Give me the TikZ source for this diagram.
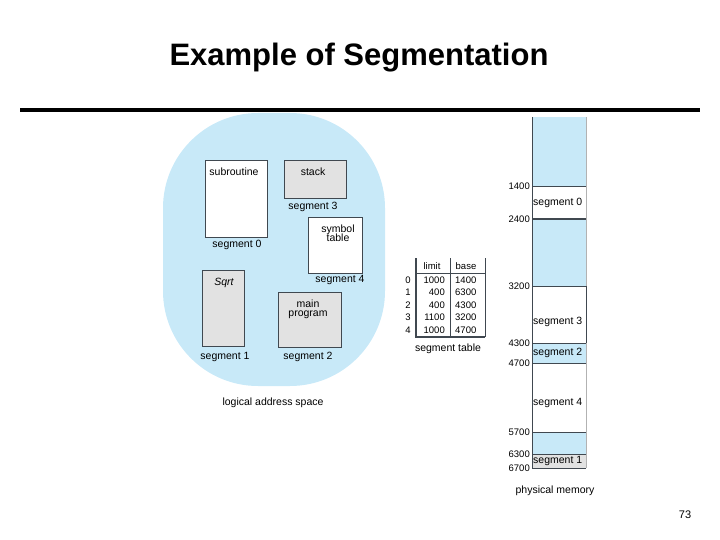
\documentclass[tikz,border=0pt]{standalone}
\usepackage{fontspec}
\setmainfont{Liberation Sans}
\definecolor{lb}{HTML}{C8E9F8}
\definecolor{gr}{HTML}{E2E2E2}
\definecolor{ln}{HTML}{404850}
\begin{document}
\begin{tikzpicture}[x=1pt,y=-1pt,
 lbl/.style={font=\fontsize{10.5}{11}\selectfont,inner sep=0pt},
 sml/.style={font=\fontsize{9.5}{10}\selectfont,inner sep=0pt},
 seg/.style={draw=ln,line width=0.6pt}]
\useasboundingbox (0,0) rectangle (720,540);
\node[font=\bfseries\fontsize{31}{34}\selectfont] (title) at (359,58) {Example of Segmentation};
\draw[line width=4pt] (20,110) -- (700,110);
% logical space
\fill[lb,rounded corners=95pt] (163,113) rectangle (385,386);
\node[seg,fill=white,minimum width=62,minimum height=77,inner sep=0,anchor=north west] (sub) at (205,160) {};
\node[lbl,anchor=north] at (234,168) {subroutine};
\node[seg,fill=gr,minimum width=62,minimum height=38,inner sep=0,anchor=north west] (stk) at (284,160) {};
\node[lbl,anchor=north] at (313,168) {stack};
\node[lbl] (s3) at (313,207) {segment 3};
\node[lbl] (s0) at (237,245) {segment 0};
\node[seg,fill=white,minimum width=54,minimum height=56,inner sep=0,anchor=north west] (sym) at (308,217) {};
\node[lbl,align=center,anchor=north] at (338,225) {symbol\\[-2pt]table};
\node[lbl] (s4) at (340,280) {segment 4};
\node[seg,fill=gr,minimum width=42,minimum height=76,inner sep=0,anchor=north west] (sqrt) at (202,270) {};
\node[lbl,anchor=north] at (224,278) {\itshape Sqrt};
\node[seg,fill=gr,minimum width=63,minimum height=55,inner sep=0,anchor=north west] (main) at (278,292) {};
\node[lbl,align=center,anchor=north] at (308,300) {main\\[-2pt]program};
\node[lbl] (s1) at (225,357) {segment 1};
\node[lbl] (s2) at (308,357) {segment 2};
\node[lbl] (las) at (273,403) {logical address space};
% segment table
\draw[ln,line width=0.6pt] (416,273) -- (485,273);
\draw[ln,line width=1.2pt] (416,258) -- (416,337) -- (485,337);
\draw[ln,line width=1pt] (450,258) -- (450,337);
\draw[ln,line width=0.6pt] (485,258) -- (485,337);
\node[sml] at (432,266) {limit};
\node[sml] at (466,266) {base};
\foreach \i/\l/\b in {0/1000/1400,1/400/6300,2/400/4300,3/1100/3200,4/1000/4700}{
  \node[sml] at (408,280+12.5*\i) {\i};
  \node[sml,anchor=east] at (445,280+12.5*\i) {\l};
  \node[sml,anchor=west] at (455,280+12.5*\i) {\b};
}
\node[lbl] (st) at (448,349) {segment table};
% physical memory
\fill[lb] (532,117) rectangle (586,186);
\fill[lb] (532,219) rectangle (586,286);
\fill[lb] (532,343) rectangle (586,363);
\fill[lb] (532,432) rectangle (586,454);
\fill[gr] (532,454) rectangle (586,468);
\draw[ln,line width=0.6pt] (532,117) -- (532,468) -- (586,468);
\draw[gray!60,line width=0.6pt] (586,117) -- (586,468);
\foreach \y in {186,219,286,343,363,432,454}{\draw[ln,line width=0.6pt] (532,\y) -- (586,\y);}
\draw[ln,line width=1pt] (532,219) -- (586,219);
\draw[ln,line width=0.8pt] (586,286) -- (586,343);
\foreach \y/\t in {186/1400,219/2400,286/3200,343/4300,363/4700,432/5700,454/6300,468/6700}{
  \node[sml,anchor=east] at (530,\y) {\t};}
\node[lbl,anchor=west] at (533,203) {segment 0};
\node[lbl,anchor=west] at (533,322) {segment 3};
\node[lbl,anchor=west] at (533,363-10) {segment 2};
\node[lbl,anchor=west] at (533,403) {segment 4};
\node[lbl,anchor=west] at (533,466-5) {segment 1};
\node[lbl] (pm) at (555,491) {physical memory};
\node[font=\fontsize{11}{12}\selectfont] (pg) at (685,515) {73};
\end{tikzpicture}
\end{document}
